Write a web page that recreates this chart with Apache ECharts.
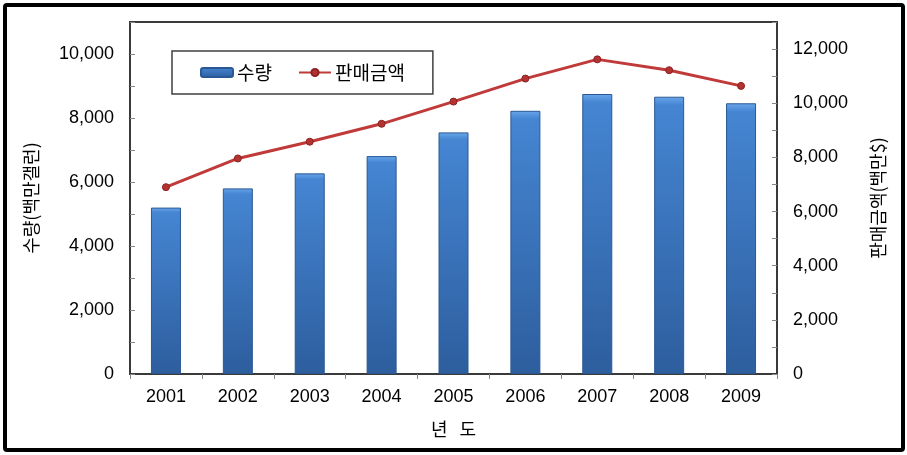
<!DOCTYPE html>
<html>
<head>
<meta charset="utf-8">
<script src="https://cdn.jsdelivr.net/npm/echarts@6/dist/echarts.min.js"></script>
<style>
  html, body { margin: 0; padding: 0; background: #fff; }
  .wrap { position: relative; width: 907px; height: 455px; }
  #chart { width: 907px; height: 455px; }
  .frame {
    position: absolute; left: 3px; top: 3px; right: 2px; bottom: 3px;
    border: 4px solid #000; border-radius: 4px; pointer-events: none;
  }
</style>
</head>
<body>
<div class="wrap">
  <div id="chart"></div>
  <div class="frame"></div>
</div>
<script>
const years = ['2001', '2002', '2003', '2004', '2005', '2006', '2007', '2008', '2009']
// 수량 (백만갤런), left axis
const volume = [5200, 5800, 6270, 6810, 7550, 8225, 8750, 8665, 8460]
// 판매금액 ($백만), right axis
const sales = [6900, 7960, 8580, 9240, 10060, 10910, 11620, 11220, 10640]

const leftMax = 11000
const rightMax = 13000
const tickStep = 2000

const fontKr = '"Noto Sans CJK KR", "Noto Sans", sans-serif'
const fontNum = '"Liberation Sans", Arial, sans-serif'

const fmt = (v, top) => (v >= top ? '' : v.toLocaleString('en-US'))

const chart = echarts.init(document.getElementById('chart'))

const option = {
  animation: false,
  backgroundColor: '#fff',
  grid: {
    left: 130,
    right: 130,
    top: 22,
    bottom: 81,
    show: true,
    borderColor: '#3a3a3a',
    borderWidth: 2,
    backgroundColor: '#fff'
  },
  legend: {
    left: 172,
    top: 51,
    padding: [12, 28, 12, 28],
    itemGap: 26,
    itemWidth: 32,
    itemHeight: 9,
    backgroundColor: '#fff',
    borderColor: '#404040',
    borderWidth: 1.5,
    textStyle: { fontFamily: fontKr, fontSize: 19, color: '#000', padding: [0, 0, 0, -1] },
    data: ['수량', '판매금액']
  },
  xAxis: {
    type: 'category',
    data: years,
    name: '년   도',
    nameLocation: 'middle',
    nameGap: 46,
    nameTextStyle: { fontFamily: fontKr, fontSize: 18, color: '#000' },
    axisLine: { lineStyle: { color: '#3a3a3a', width: 2 } },
    axisTick: { show: true, length: 5, lineStyle: { color: '#888' } },
    axisLabel: { fontFamily: fontNum, fontSize: 18, color: '#000', margin: 14 }
  },
  yAxis: [
    {
      type: 'value',
      min: 0,
      max: leftMax,
      interval: tickStep,
      name: '수량(백만갤런)',
      nameLocation: 'middle',
      nameRotate: 90,
      nameGap: 90,
      nameTextStyle: { fontFamily: fontKr, fontSize: 18, color: '#000' },
      axisLine: { show: true, lineStyle: { color: '#3a3a3a', width: 2 } },
      axisTick: { show: true, inside: true, length: 5, lineStyle: { color: '#888' } },
      minorTick: { show: true, splitNumber: 2, length: 5, lineStyle: { color: '#888' } },
      splitLine: { show: false },
      axisLabel: {
        fontFamily: fontNum, fontSize: 18, color: '#000', margin: 16,
        formatter: v => fmt(v, leftMax)
      }
    },
    {
      type: 'value',
      min: 0,
      max: rightMax,
      interval: tickStep,
      name: '판매금액(백만$)',
      nameLocation: 'middle',
      nameRotate: 90,
      nameGap: 92,
      nameTextStyle: { fontFamily: fontKr, fontSize: 18, color: '#000' },
      axisLine: { show: true, lineStyle: { color: '#3a3a3a', width: 2 } },
      axisTick: { show: true, inside: true, length: 5, lineStyle: { color: '#888' } },
      minorTick: { show: true, splitNumber: 2, length: 5, lineStyle: { color: '#888' } },
      splitLine: { show: false },
      axisLabel: {
        fontFamily: fontNum, fontSize: 18, color: '#000', margin: 16,
        formatter: v => fmt(v, rightMax)
      }
    }
  ],
  series: [
    {
      name: '수량',
      type: 'bar',
      yAxisIndex: 0,
      data: volume,
      barWidth: 30,
      itemStyle: {
        borderColor: '#2a5894',
        borderWidth: 1,
        color: {
          type: 'linear', x: 0, y: 0, x2: 0, y2: 1,
          colorStops: [
            { offset: 0, color: '#6aa6ea' },
            { offset: 0.03, color: '#4585d2' },
            { offset: 1, color: '#2d5e9e' }
          ]
        }
      }
    },
    {
      name: '판매금액',
      type: 'line',
      yAxisIndex: 1,
      data: sales,
      symbol: 'circle',
      symbolSize: 7,
      lineStyle: { color: '#c03a3a', width: 3 },
      itemStyle: { color: '#b53232', borderColor: '#8c2222', borderWidth: 1 }
    }
  ]
}

chart.setOption(option)
</script>
</body>
</html>
